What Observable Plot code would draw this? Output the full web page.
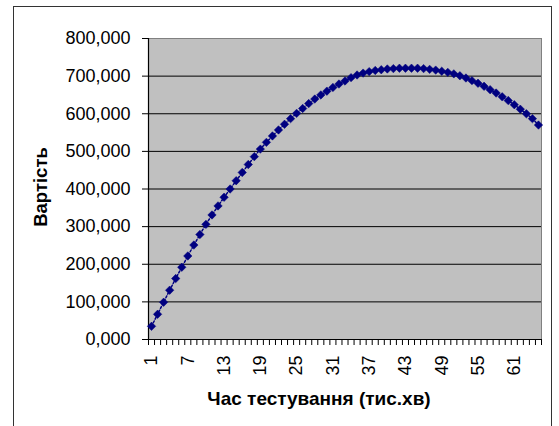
<!DOCTYPE html>
<html>
<head>
<meta charset="utf-8">
<script src="https://cdn.jsdelivr.net/npm/d3@7"></script>
<script src="https://cdn.jsdelivr.net/npm/@observablehq/plot@0.6"></script>
<style>
  html, body { margin: 0; padding: 0; background: #fff; overflow: hidden; }
  #wrap { position: relative; width: 559px; height: 426px; }
  #border { position: absolute; left: 13px; top: 6px; width: 539px; height: 440px; border: 1px solid #333; box-sizing: border-box; pointer-events: none; }
</style>
</head>
<body>
<div id="wrap"><div id="border"></div></div>
<script>
const categories = Array.from({length: 65}, (_, i) => i + 1);
const values = [
  35, 67, 99, 131, 162, 192, 222, 251, 279, 306,
  331, 355, 378, 400, 422, 444, 465, 486, 506, 524,
  541, 557, 572, 587, 601, 614, 627, 639, 650, 660,
  670, 679, 687, 696, 703, 708, 712, 715, 717, 719,
  720, 721, 721, 721, 721, 720, 718, 716, 713, 710,
  706, 701, 695, 688, 681, 673, 664, 655, 645, 635,
  624, 612, 600, 587, 570
];
const yTicks = [0, 100, 200, 300, 400, 500, 600, 700, 800];
const xTickLabels = [1, 7, 13, 19, 25, 31, 37, 43, 49, 55, 61];
const yTitle = "Вартість";
const xTitle = "Час тестування (тис.хв)";

const data = categories.map((c, i) => ({c, v: values[i]}));
const boundaries = [categories[0] - 0.5, ...categories.map(c => c + 0.5)];
const fmt = d => d3.format(".3f")(d).replace(".", ",");
const font = "'Liberation Sans', Arial, sans-serif";

const chart = Plot.plot({
  width: 559,
  height: 426,
  marginLeft: 148,
  marginRight: 18,
  marginTop: 38,
  marginBottom: 87,
  style: {fontFamily: font, fontSize: "18px", color: "black", background: "transparent"},
  x: {domain: [boundaries[0], boundaries[boundaries.length - 1]], axis: null},
  y: {domain: [0, 800], axis: null},
  marks: [
    Plot.frame({fill: "#c0c0c0", stroke: "#808080"}),
    Plot.ruleY(yTicks.filter(d => d > 0 && d < 800), {stroke: "black", strokeWidth: 1}),
    Plot.ruleY([0], {stroke: "black", strokeWidth: 1.2}),
    Plot.ruleX([boundaries[0]], {stroke: "black", strokeWidth: 1.2}),
    Plot.axisY({ticks: yTicks, tickFormat: fmt, tickSize: 6, tickPadding: 12, label: null, fontSize: 18, stroke: "black"}),
    Plot.axisX({ticks: boundaries, tickFormat: () => "", tickSize: 6, label: null, stroke: "black"}),
    Plot.axisX({ticks: xTickLabels, tickFormat: d => String(d), tickSize: 0, tickPadding: 16, tickRotate: -90, label: null, fontSize: 18}),
    Plot.line(data, {x: "c", y: "v", stroke: "#000080", strokeWidth: 1.5, strokeDasharray: "2,2"}),
    Plot.dot(data, {x: "c", y: "v", symbol: "diamond2", r: 3.8, fill: "#000080", stroke: "#000080", strokeWidth: 0.5}),
    Plot.text([yTitle], {frameAnchor: "left", textAnchor: "middle", lineAnchor: "middle", dx: -107, dy: -2, rotate: -90, fontWeight: "bold", fontSize: 18.5, fill: "black"}),
    Plot.text([xTitle], {frameAnchor: "bottom", textAnchor: "middle", lineAnchor: "middle", dx: -26, dy: 59, fontWeight: "bold", fontSize: 19, fill: "black"})
  ]
});
document.getElementById("wrap").prepend(chart);
</script>
</body>
</html>
